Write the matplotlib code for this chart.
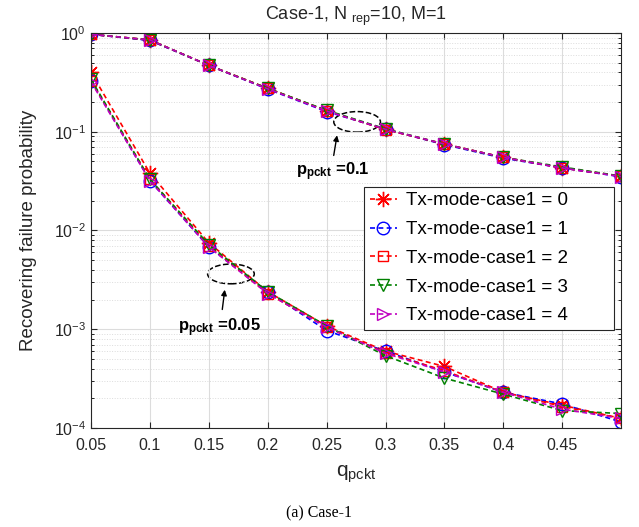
import numpy as np
import matplotlib
matplotlib.use('Agg')
import matplotlib.pyplot as plt
from matplotlib.patches import Ellipse

plt.rcParams['font.family'] = ['Liberation Sans', 'DejaVu Sans']
plt.rcParams['mathtext.fontset'] = 'custom'
plt.rcParams['mathtext.rm'] = 'Liberation Sans'
plt.rcParams['mathtext.it'] = 'Liberation Sans'
plt.rcParams['mathtext.bf'] = 'Liberation Sans:bold'

# q_pckt values
q_pckt = [0.05, 0.1, 0.15, 0.2, 0.25, 0.3, 0.35, 0.4, 0.45, 0.5]

# p_pckt = 0.1 (upper group), one list per Tx mode
upper_0 = [0.97, 0.85, 0.47, 0.275, 0.163, 0.106, 0.075, 0.055, 0.043, 0.0355]
upper_1 = [0.97, 0.84, 0.47, 0.270, 0.160, 0.106, 0.074, 0.054, 0.043, 0.0350]
upper_2 = [0.97, 0.85, 0.47, 0.275, 0.163, 0.105, 0.075, 0.055, 0.043, 0.0355]
upper_3 = [0.97, 0.85, 0.47, 0.275, 0.165, 0.107, 0.075, 0.055, 0.044, 0.0355]
upper_4 = [0.97, 0.85, 0.47, 0.272, 0.162, 0.106, 0.075, 0.055, 0.043, 0.0352]

# p_pckt = 0.05 (lower group)
lower_0 = [0.40, 0.038, 0.0075, 0.0024, 0.00108, 0.00060, 0.00042, 0.00023, 0.00017, 0.000125]
lower_1 = [0.33, 0.032, 0.0068, 0.0024, 0.00097, 0.00060, 0.00037, 0.00023, 0.000175, 0.000115]
lower_2 = [0.33, 0.033, 0.0070, 0.0023, 0.00105, 0.00058, 0.00038, 0.00023, 0.000165, 0.000125]
lower_3 = [0.34, 0.033, 0.0072, 0.0024, 0.00108, 0.00054, 0.00032, 0.00022, 0.000150, 0.000140]
lower_4 = [0.32, 0.032, 0.0068, 0.0023, 0.00105, 0.00057, 0.00037, 0.00023, 0.000155, 0.000125]

labels = ['Tx-mode-case1 = 0', 'Tx-mode-case1 = 1', 'Tx-mode-case1 = 2',
          'Tx-mode-case1 = 3', 'Tx-mode-case1 = 4']
colors = ['#ff0000', '#0000ff', '#ff0000', '#008000', '#c000c0']
markers = [(8, 2, 0), 'o', 's', 'v', '>']
sizes = [11, 9, 7, 9, 9]

x_ticks = [0.05, 0.1, 0.15, 0.2, 0.25, 0.3, 0.35, 0.4, 0.45]

fig = plt.figure(figsize=(6.39, 5.27), dpi=100)
ax = fig.add_axes([0.1424, 0.1879, 0.8296, 0.7495])

uppers = [upper_0, upper_1, upper_2, upper_3, upper_4]
lowers = [lower_0, lower_1, lower_2, lower_3, lower_4]
for i in range(5):
    style = dict(color=colors[i], linestyle='--', linewidth=1.2, marker=markers[i],
                 markersize=sizes[i], markerfacecolor='none',
                 markeredgewidth=1.0, dashes=(3, 2))
    ax.plot(q_pckt, uppers[i], label=labels[i], **style)
    ax.plot(q_pckt, lowers[i], **style)

ax.set_yscale('log')
ax.set_xlim(0.05, 0.5)
ax.set_ylim(1e-4, 1)
ax.set_xticks(x_ticks)
ax.set_xticklabels([f'{t:g}' for t in x_ticks])
ax.grid(True, which='major', color='#dcdcdc', linewidth=0.8)
ax.grid(True, which='minor', color='#dcdcdc', linestyle=':', linewidth=0.7)
ax.tick_params(axis='both', which='major', labelsize=11.5, direction='in', length=4,
               top=True, right=True, colors='#262626')
ax.tick_params(axis='x', which='major', pad=7)
ax.tick_params(axis='both', which='minor', direction='in', length=2, right=True)
ax.tick_params(axis='x', which='minor', bottom=False, top=False)
for s in ax.spines.values():
    s.set_color('#262626')

ax.set_xlabel('q$_{\\mathrm{pckt}}$', fontsize=15, color='#262626', labelpad=8)
ax.set_ylabel('Recovering failure probability', fontsize=13.5, color='#262626', labelpad=12)
ax.set_title('Case-1, N $_{\\mathrm{rep}}$=10, M=1', fontsize=13, color='#262626', pad=9)

# dashed ellipses around the two groups
ax.add_patch(Ellipse((0.502, 0.775), 0.088, 0.052, transform=ax.transAxes,
                     fill=False, edgecolor='black', linestyle='--', linewidth=1.1))
ax.add_patch(Ellipse((0.264, 0.390), 0.088, 0.050, transform=ax.transAxes,
                     fill=False, edgecolor='black', linestyle='--', linewidth=1.1))

ax.annotate('', xy=(0.465, 0.748), xytext=(0.457, 0.683), xycoords='axes fraction',
            arrowprops=dict(arrowstyle='-|>', color='black', lw=1.0, mutation_scale=8))
ax.annotate('', xy=(0.253, 0.357), xytext=(0.247, 0.293), xycoords='axes fraction',
            arrowprops=dict(arrowstyle='-|>', color='black', lw=1.0, mutation_scale=8))
ax.text(0.387, 0.650, r'$\mathbf{p}_{\mathbf{pckt}}$ =0.1', transform=ax.transAxes,
        fontsize=12, fontweight='bold', va='center')
ax.text(0.165, 0.255, r'$\mathbf{p}_{\mathbf{pckt}}$ =0.05', transform=ax.transAxes,
        fontsize=12, fontweight='bold', va='center')

# MATLAB-style legend box, wider than its text
leg = ax.legend(loc='upper left', bbox_to_anchor=(0.515, 0.243, 0.472, 0.368),
                mode='expand', fontsize=13.5,
                frameon=True, fancybox=False, framealpha=1, edgecolor='#262626',
                handlelength=1.45, handletextpad=0.5, borderpad=0.3, labelspacing=0.62,
                borderaxespad=0)
leg.get_frame().set_linewidth(0.8)

fig.text(0.5, 0.025, '(a) Case-1', ha='center', va='center', fontsize=11.5,
         family=['Liberation Serif', 'DejaVu Serif'])

fig.savefig('out.png', dpi=100)
